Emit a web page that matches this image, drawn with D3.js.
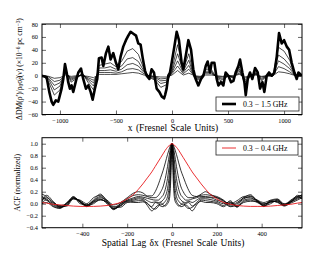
<!DOCTYPE html>
<html><head><meta charset="utf-8">
<script src="https://cdn.jsdelivr.net/npm/d3@7/dist/d3.min.js"></script>
<style>
html,body{margin:0;padding:0;background:#fff;}
svg{display:block;font-family:"Liberation Serif","Times New Roman",serif;}
.tick text{font-size:6px;fill:#000;}
</style></head><body>
<svg id="c" width="335" height="253"></svg>
<script>
// ---------- DATA ----------
const topXTicks = [-1000, -500, 0, 500, 1000];
const topYTicks = [80, 60, 40, 20, 0, -20, -40, -60];
const botXTicks = [-400, -200, 0, 200, 400];
const botYTicks = [1.0, 0.8, 0.6, 0.4, 0.2, 0.0, -0.2, -0.4];
const topLegend = "0.3 \u2212 1.5 GHz";
const botLegend = "0.3 \u2212 0.4 GHz";

// thick (0.3 GHz) DM trace
const thickX = [-1164,-1119,-1095,-1074,-1060,-1036,-1015,-1000,-985,-970,-955,-940,-926,-911,-896,-881,-857,-836,-812,-792,-768,-747,-726,-708,-688,-667,-652,-628,-613,-589,-568,-548,-524,-500,-479,-458,-435,-411,-390,-369,-345,-321,-301,-280,-262,-241,-226,-202,-182,-161,-137,-113,-92,-71,-62,-48,-33,-18,
 -3,21,42,62,86,101,122,146,170,190,211,235,259,280,301,318,339,354,378,399,414,437,458,479,503,527,548,568,592,607,628,646,658,676,696,717,741,765,786,807,824,845,866,890,914,935,955,979,1000,1024,1045,1068,1092,1113,1128,1160];
const thickY = [0,-2,-25,-40,-45,-38,-40,-30,-20,-5,18,5,-10,-20,-15,-25,-8,5,11,-5,-20,-15,-25,-37,-20,-5,27,28,15,35,45,25,35,20,10,30,45,55,62,68,65,62,50,48,28,8,0,-5,10,5,-20,-25,-32,-35,-30,-20,0,5,
 20,45,68,55,20,10,30,55,40,10,-5,-15,-5,0,15,22,5,20,20,-5,-15,-10,-15,5,0,-10,-8,5,15,25,5,-10,-30,-5,5,-5,12,5,-20,-10,-25,0,5,0,5,30,66,50,55,45,40,20,5,-5,5,0];

// thinner traces (higher frequencies)
const thinX = [-1150,-1100,-1050,-1000,-950,-900,-850,-800,-750,-700,-650,-600,-550,-500,-450,-400,-350,-300,-250,-200,-150,-100,-50,0,50,100,150,200,250,300,350,400,450,500,550,600,650,700,750,800,850,900,950,1000,1050,1100,1150];
const thin1 = [0,-10,-30,-22,8,-10,-4,4,-10,-22,16,18,20,14,22,38,42,33,10,-3,-7,-18,-14,10,48,9,34,-4,-7,10,10,-4,-9,0,-4,14,-14,0,5,-8,0,0,44,38,24,0,0];
const thin2 = [0,-6,-22,-16,6,-7,-3,3,-7,-16,12,12,14,10,15,26,28,22,7,-2,-5,-12,-10,7,34,7,24,-3,-5,7,7,-3,-6,0,-3,10,-10,0,4,-6,0,0,32,26,16,0,0];
const thin3 = [0,-4,-15,-11,4,-5,-2,2,-5,-11,8,8,9,7,10,17,19,15,5,-1,-3,-8,-7,5,23,5,16,-2,-3,5,5,-2,-4,0,-2,7,-7,0,3,-4,0,0,23,18,11,0,0];
const thin4 = [0,-2,-9,-7,3,-3,-1,1,-3,-7,5,5,5,4,6,10,11,9,3,0,-2,-5,-4,3,15,3,10,-1,-2,3,3,-1,-2,0,-1,4,-4,0,2,-2,0,0,14,11,6,0,0];
const thin5 = [0,-1,-4,-3,1,-1,0,0,-1,-3,2,2,2,2,3,4,5,4,1,0,-1,-2,-2,1,8,1,4,0,-1,1,1,0,-1,0,0,2,-2,0,1,-1,0,0,6,5,3,0,0];

// ACF lags
const lags = [-580,-560,-530,-500,-470,-440,-410,-380,-350,-320,-290,-260,-230,-200,-170,-150,-130,-110,-90,-75,-60,-50,-40,-30,-20,-15,-10,-5,0,5,10,15,20,30,40,50,60,75,90,110,130,150,170,200,230,260,290,320,350,380,410,440,470,500,530,560,580];
const acfRed = [0.02,0.01,-0.01,-0.02,-0.03,-0.04,-0.045,-0.045,-0.045,-0.04,-0.03,-0.01,0.02,0.08,0.16,0.24,0.33,0.43,0.53,0.62,0.71,0.77,0.83,0.89,0.94,0.96,0.98,0.995,1.0,0.995,0.98,0.96,0.94,0.89,0.83,0.77,0.71,0.62,0.53,0.43,0.33,0.24,0.16,0.08,0.02,-0.01,-0.03,-0.04,-0.045,-0.045,-0.045,-0.04,-0.03,-0.02,-0.01,0.01,0.02];
const acf1 = [0.16,0.12,0.02,-0.03,0.0,0.08,0.06,0.0,0.1,0.14,0.06,-0.02,0.02,0.1,0.18, 0.2,0.18,0.13,0.13,0.2,0.33,0.44,0.55,0.68,0.82,0.88,0.94,0.98, 1, 0.98,0.94,0.88,0.82,0.68,0.55,0.45,0.35,0.22,0.14,0.12,0.16,0.2, 0.16,0.1,0.04,0.0,0.05,0.12,0.13,0.06,0.02,0.06,0.08,0.0,0.04,0.12,0.14];
const acf2 = [0.12,0.08,0.0,-0.05,-0.02,0.1,0.04,-0.02,0.06,0.16,0.04,-0.06,0.0,0.08,0.14, 0.15,0.14,0.12,0.1,0.1,0.14,0.2,0.28,0.42,0.62,0.74,0.86,0.96, 1, 0.96,0.86,0.74,0.62,0.42,0.28,0.2,0.14,0.1,0.1,0.12,0.14,0.15, 0.14,0.12,0.06,-0.02,0.02,0.1,0.15,0.04,-0.01,0.04,0.07,-0.01,0.03,0.1,0.15];
const acf3 = [0.1,0.06,-0.02,-0.06,0.0,0.12,0.02,-0.03,0.05,0.12,0.02,-0.08,-0.02,0.06,0.1, 0.12,0.11,0.09,0.07,0.06,0.06,0.1,0.14,0.24,0.42,0.56,0.74,0.92, 1, 0.92,0.74,0.56,0.42,0.24,0.14,0.1,0.06,0.06,0.08,0.1,0.12,0.12, 0.11,0.1,0.05,-0.04,0.0,0.08,0.12,0.05,0.0,0.02,0.05,-0.02,0.02,0.14,0.12];
const acf4 = [0.06,0.1,0.02,-0.04,-0.04,0.08,0.05,-0.04,0.03,0.08,0.0,-0.1,0.0,0.05,0.08, 0.1,0.09,0.05,0.02,0.03,0.02,0.03,0.06,0.12,0.25,0.38,0.58,0.86, 1, 0.86,0.58,0.38,0.25,0.12,0.06,0.03,0.02,0.04,0.02,0.06,0.1,0.1, 0.1,0.06,0.02,-0.05,-0.03,0.1,0.1,0.03,-0.02,0.05,0.02,-0.03,0.05,0.1,0.1];
const acf5 = [0.04,0.14,0.04,-0.06,-0.03,0.1,0.03,-0.05,0.02,0.06,0.03,-0.08,-0.04,0.04,0.06, 0.08,0.07,0.0,-0.05,0.02,0.0,-0.02,0.0,0.04,0.12,0.22,0.4,0.76, 1, 0.76,0.4,0.22,0.12,0.04,0.0,-0.02,0.0,0.02,-0.04,0.02,0.08,0.08, 0.07,0.04,0.0,0.03,-0.05,0.06,0.08,0.06,-0.04,0.03,0.04,-0.02,0.06,0.12,0.08];
const acf6 = [0.02,0.06,-0.04,-0.07,0.0,0.11,0.0,-0.02,0.04,0.1,0.05,-0.05,-0.06,0.02,0.04, 0.05,0.05,-0.03,-0.12,-0.07,-0.02,-0.04,-0.05,-0.02,0.04,0.1,0.25,0.62, 1, 0.62,0.25,0.1,0.04,-0.02,-0.05,-0.04,-0.02,-0.06,-0.12,-0.02,0.06,0.05, 0.04,0.02,-0.03,0.05,-0.06,0.04,0.06,0.02,-0.03,0.0,0.06,-0.03,0.03,0.08,0.12];
const acf7 = [0.0,0.02,-0.05,-0.08,0.02,0.09,0.03,-0.03,0.0,0.07,0.02,-0.09,-0.03,0.03,0.02, 0.02,0.03,0.01,-0.07,-0.09,-0.04,0.02,-0.02,-0.04,0.0,0.03,0.12,0.45, 1, 0.45,0.12,0.03,0.0,-0.04,-0.02,0.02,-0.04,-0.08,-0.06,0.0,0.04,0.02, 0.02,0.0,-0.05,0.02,-0.04,0.02,0.04,0.04,-0.05,0.04,0.03,-0.04,0.01,0.06,0.1];

// ---------- LAYOUT ----------
const L = 42, R = 302;
const topP = {y0: 24, y1: 114.5};
const botP = {y0: 137.7, y1: 227.7};
const svg = d3.select("#c");

function panel(p, xDom, yDom, xt, yt, yfmt, xfmt, id) {
  const x = d3.scaleLinear().domain(xDom).range([L, R]);
  const y = d3.scaleLinear().domain(yDom).range([p.y1, p.y0]);
  svg.append("clipPath").attr("id", id).append("rect")
    .attr("x", L).attr("y", p.y0).attr("width", R - L).attr("height", p.y1 - p.y0);
  const g = svg.append("g");
  const axB = g.append("g").attr("transform", `translate(0,${p.y1})`)
    .call(d3.axisBottom(x).tickValues(xt).tickSize(-4).tickPadding(4).tickFormat(xfmt));
  const axT = g.append("g").attr("transform", `translate(0,${p.y0})`)
    .call(d3.axisTop(x).tickValues(xt).tickSize(-4).tickFormat(""));
  const axL = g.append("g").attr("transform", `translate(${L},0)`)
    .call(d3.axisLeft(y).tickValues(yt).tickSize(-4).tickPadding(4).tickFormat(yfmt));
  const axR = g.append("g").attr("transform", `translate(${R},0)`)
    .call(d3.axisRight(y).tickValues(yt).tickSize(-4).tickFormat(""));
  [axB, axT, axL, axR].forEach(a => {
    a.select(".domain").remove();
    a.selectAll(".tick line").attr("stroke", "#000").attr("stroke-width", 0.6);
    a.selectAll(".tick text").style("font-family", "Liberation Serif, serif").style("font-size", "6.3px");
  });
  return {x, y, g};
}

const fmtInt = d => d < 0 ? "\u2212" + Math.abs(d) : String(d);
const fmt1 = d => (d < 0 ? "\u2212" : "") + Math.abs(d).toFixed(1);

// top panel
const T = panel(topP, [-1160, 1160], [-60, 80], topXTicks, topYTicks, fmtInt, fmtInt, "clipTop");
const dTop = svg.append("g").attr("clip-path", "url(#clipTop)");
const lineThin = d3.line().x(d => T.x(d[0])).y(d => T.y(d[1]));
[thin5, thin4, thin3, thin2, thin1].forEach(s => {
  dTop.append("path").attr("d", lineThin(thinX.map((v, i) => [v, s[i]])))
    .attr("fill", "none").attr("stroke", "#000").attr("stroke-width", 0.7);
});
dTop.append("path").attr("d", lineThin(thickX.map((v, i) => [v, thickY[i]])))
  .attr("fill", "none").attr("stroke", "#000").attr("stroke-width", 2.6).attr("stroke-linejoin", "round");

// bottom panel
const B = panel(botP, [-580, 580], [-0.4, 1.1], botXTicks, botYTicks, fmt1, fmtInt, "clipBot");
const dBot = svg.append("g").attr("clip-path", "url(#clipBot)");
const lineAcf = d3.line().x(d => B.x(d[0])).y(d => B.y(d[1])).curve(d3.curveMonotoneX);
[acf1, acf2, acf3, acf4, acf5, acf6, acf7].forEach(s => {
  dBot.append("path").attr("d", lineAcf(lags.map((v, i) => [v, s[i]])))
    .attr("fill", "none").attr("stroke", "#000").attr("stroke-width", 0.8);
});
dBot.append("path").attr("d", lineAcf(lags.map((v, i) => [v, acfRed[i]])))
  .attr("fill", "none").attr("stroke", "#e8181c").attr("stroke-width", 0.9);

// frames
[topP, botP].forEach(p => {
  svg.append("rect").attr("x", L).attr("y", p.y0).attr("width", R - L).attr("height", p.y1 - p.y0)
    .attr("fill", "none").attr("stroke", "#000").attr("stroke-width", 1);
});

// legends
function legend(x0, y0, w, h, color, sw, text) {
  svg.append("rect").attr("x", x0).attr("y", y0).attr("width", w).attr("height", h)
    .attr("fill", "#fff").attr("stroke", "#222").attr("stroke-width", 0.8);
  svg.append("line").attr("x1", x0 + 6).attr("x2", x0 + 20).attr("y1", y0 + h / 2).attr("y2", y0 + h / 2)
    .attr("stroke", color).attr("stroke-width", sw);
  svg.append("text").attr("x", x0 + 27).attr("y", y0 + h / 2 + 2.5)
    .style("font-size", "7.8px").text(text);
}
legend(216, 97, 83, 14, "#000", 2.6, topLegend);
legend(216, 141, 82, 14, "#e8181c", 0.9, botLegend);

// axis labels
svg.append("text").attr("x", 173).attr("y", 130.5).attr("text-anchor", "middle")
  .style("font-size", "9.5px").style("word-spacing", "1px").text("x  (Fresnel Scale Units)");
svg.append("text").attr("x", 173).attr("y", 246).attr("text-anchor", "middle")
  .style("font-size", "9.5px").style("word-spacing", "1px").text("Spatial Lag \u03b4x  (Fresnel Scale Units)");

const yl = svg.append("text").attr("transform", "translate(22,69) rotate(-90)")
  .attr("text-anchor", "middle").style("font-size", "7.6px");
yl.append("tspan").text("\u0394DM(\u03c1\u2032)/\u03c1");
yl.append("tspan").attr("baseline-shift", "-25%").style("font-size", "5.4px").text("0");
yl.append("tspan").text("\u03c3");
yl.append("tspan").attr("baseline-shift", "40%").style("font-size", "5.4px").text("2");
yl.append("tspan").attr("dx", "-3").attr("baseline-shift", "-25%").style("font-size", "5.4px").text("\u03c1");
yl.append("tspan").text("(\u03bd) (\u00d710");
yl.append("tspan").attr("baseline-shift", "40%").style("font-size", "5.4px").text("\u22126");
yl.append("tspan").text(" pc cm");
yl.append("tspan").attr("baseline-shift", "40%").style("font-size", "5.4px").text("\u22123");
yl.append("tspan").text(")");

svg.append("text").attr("transform", "translate(20,182.7) rotate(-90)")
  .attr("text-anchor", "middle").style("font-size", "7.8px").text("ACF (normalized)");
</script>
</body></html>
